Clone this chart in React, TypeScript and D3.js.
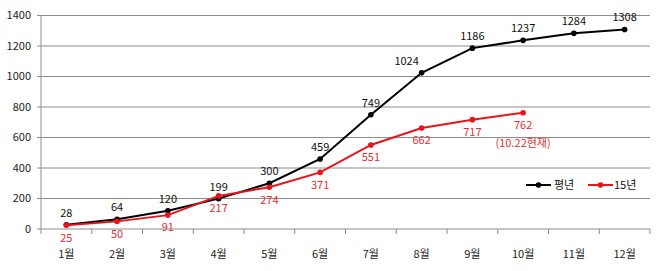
import React from "react";
import * as d3 from "d3";

const months = ["1월", "2월", "3월", "4월", "5월", "6월", "7월", "8월", "9월", "10월", "11월", "12월"];
const normalYear = [28, 64, 120, 199, 300, 459, 749, 1024, 1186, 1237, 1284, 1308];
const year15 = [25, 50, 91, 217, 274, 371, 551, 662, 717, 762];
const yTicks = [0, 200, 400, 600, 800, 1000, 1200, 1400];

const W = 658, H = 271;
const FONT = "'Noto Sans CJK KR', 'Noto Sans', sans-serif";
const RED = "#e8141c";
const RED_TXT = "#d9323a";

export default function App() {
  const x = d3.scaleBand<string>().domain(months).range([41, 650]);
  const y = d3.scaleLinear().domain([0, 1400]).range([229, 15.5]);
  const cx = (m: string) => (x(m) as number) + x.bandwidth() / 2;
  const line = d3.line<number>().x((_, i) => cx(months[i])).y((d) => y(d));

  return (
    <svg width={W} height={H} style={{ position: "absolute", left: 0, top: 0, background: "#fff" }}>
      {yTicks.map((t) => (
        <g key={t}>
          {t > 0 && <line x1={41} x2={650} y1={y(t)} y2={y(t)} stroke="#8c8c8c" strokeWidth={1} />}
          <line x1={37} x2={41} y1={y(t)} y2={y(t)} stroke="#8c8c8c" />
          <text x={31} y={y(t)} dy="0.35em" textAnchor="end" fontFamily={FONT} fontSize={11} fill="#222">{t}</text>
        </g>
      ))}
      <line x1={41} x2={41} y1={y(1400)} y2={y(0)} stroke="#8c8c8c" />
      <line x1={41} x2={650} y1={y(0)} y2={y(0)} stroke="#8c8c8c" />
      {months.map((m, i) => (
        <line key={"t" + i} x1={x(m) as number} x2={x(m) as number} y1={y(0)} y2={y(0) + 5} stroke="#8c8c8c" />
      ))}
      <line x1={650} x2={650} y1={y(0)} y2={y(0) + 5} stroke="#8c8c8c" />
      {months.map((m) => (
        <text key={m} x={cx(m)} y={254} dy="0.35em" textAnchor="middle" fontFamily={FONT} fontSize={11} fill="#222">{m}</text>
      ))}
      <path d={line(normalYear) || ""} fill="none" stroke="#000" strokeWidth={2} />
      <path d={line(year15) || ""} fill="none" stroke={RED} strokeWidth={2} />
      {normalYear.map((v, i) => (
        <g key={"n" + i}>
          <circle cx={cx(months[i])} cy={y(v)} r={2.8} fill="#000" />
          <text x={cx(months[i]) - (i === 7 ? 15 : 0)} y={y(v) - 12} dy="0.35em" textAnchor="middle" fontFamily={FONT} fontSize={11} fill="#111">{v}</text>
        </g>
      ))}
      {year15.map((v, i) => (
        <g key={"r" + i}>
          <circle cx={cx(months[i])} cy={y(v)} r={2.8} fill={RED} />
          <text x={cx(months[i])} y={y(v) + 12.5} dy="0.35em" textAnchor="middle" fontFamily={FONT} fontSize={11} fill={RED_TXT}>{v}</text>
        </g>
      ))}
      <text x={cx(months[9])} y={y(year15[9]) + 30} dy="0.35em" textAnchor="middle" fontFamily={FONT} fontSize={11} fill={RED_TXT}>(10.22현재)</text>
      <g>
        <line x1={526} x2={551} y1={185} y2={185} stroke="#000" strokeWidth={2} />
        <circle cx={538.5} cy={185} r={2.8} fill="#000" />
        <text x={554} y={185} dy="0.35em" fontFamily={FONT} fontSize={11} fill="#111">평년</text>
        <line x1={588} x2={613} y1={185} y2={185} stroke={RED} strokeWidth={2} />
        <circle cx={600.5} cy={185} r={2.8} fill={RED} />
        <text x={614} y={185} dy="0.35em" fontFamily={FONT} fontSize={11} fill="#111">15년</text>
      </g>
    </svg>
  );
}
